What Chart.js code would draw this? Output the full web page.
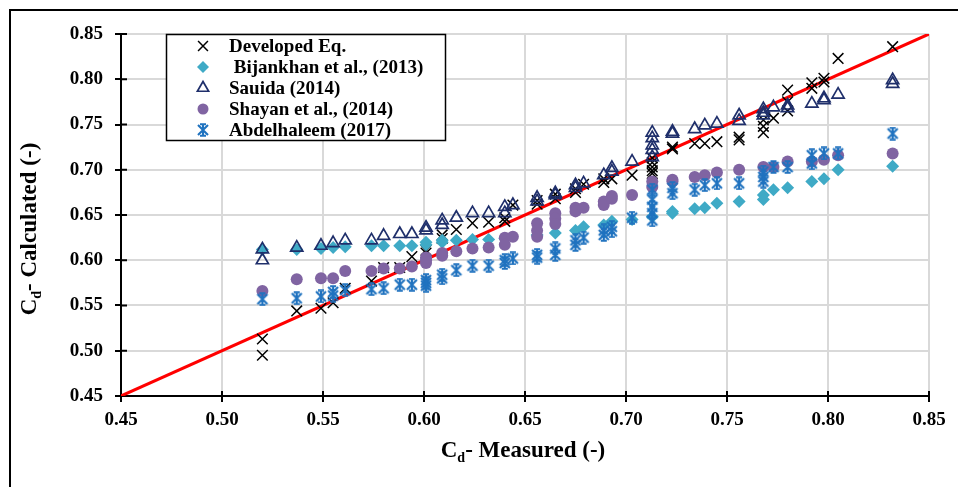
<!DOCTYPE html>
<html lang="en">
<head>
<meta charset="UTF-8">
<title>Cd Measured vs Calculated</title>
<script src="https://cdn.jsdelivr.net/npm/chart.js"></script>
<style>
body{margin:0;background:#fff;overflow:hidden;}
.frame{position:absolute;left:9px;top:9px;width:960px;height:500px;border:2px solid #000;box-sizing:border-box;}
.wrap{position:absolute;left:0;top:0;width:958px;height:487px;}
</style>
</head>
<body>
<div class="frame"></div>
<div class="wrap"><canvas id="cdChart" width="958" height="487"></canvas></div>

<script>
/* ---------- data ---------- */
const devX=[0.520,0.520,0.537,0.549,0.555,0.561,0.574,0.580,0.588,0.594,0.601,0.601,0.609,0.609,0.616,0.624,0.632,0.640,0.640,0.644,0.656,0.656,0.665,0.665,0.675,0.675,0.679,0.689,0.689,0.693,0.703,0.713,0.713,0.713,0.713,0.713,0.723,0.723,0.734,0.739,0.745,0.756,0.756,0.768,0.768,0.768,0.773,0.780,0.780,0.780,0.792,0.792,0.798,0.798,0.805,0.832];
const devY=[0.513,0.495,0.544,0.547,0.553,0.569,0.577,0.592,0.592,0.604,0.611,0.608,0.628,0.624,0.634,0.641,0.642,0.647,0.643,0.661,0.666,0.662,0.673,0.668,0.679,0.675,0.684,0.686,0.690,0.690,0.694,0.713,0.708,0.703,0.699,0.696,0.725,0.723,0.729,0.729,0.731,0.736,0.733,0.755,0.748,0.741,0.757,0.788,0.775,0.765,0.796,0.790,0.801,0.797,0.823,0.836];

const bijX=[0.520,0.537,0.549,0.555,0.561,0.574,0.580,0.588,0.594,0.601,0.601,0.609,0.609,0.616,0.624,0.632,0.640,0.656,0.665,0.675,0.679,0.689,0.693,0.703,0.713,0.723,0.723,0.734,0.739,0.745,0.756,0.768,0.768,0.773,0.780,0.792,0.798,0.805,0.832];
const bijY=[0.612,0.612,0.613,0.614,0.615,0.616,0.616,0.616,0.616,0.617,0.620,0.620,0.622,0.622,0.623,0.623,0.624,0.628,0.630,0.633,0.637,0.639,0.643,0.645,0.648,0.652,0.654,0.657,0.658,0.663,0.665,0.672,0.667,0.678,0.680,0.687,0.690,0.700,0.704];

const sauX=[0.520,0.520,0.537,0.549,0.555,0.561,0.574,0.580,0.588,0.594,0.601,0.601,0.609,0.609,0.616,0.624,0.632,0.640,0.640,0.644,0.656,0.656,0.665,0.665,0.675,0.675,0.679,0.689,0.693,0.693,0.703,0.713,0.713,0.713,0.713,0.713,0.723,0.723,0.734,0.739,0.745,0.756,0.756,0.768,0.768,0.768,0.773,0.780,0.780,0.792,0.798,0.798,0.805,0.832,0.832];
const sauY=[0.612,0.600,0.614,0.616,0.619,0.622,0.622,0.627,0.629,0.629,0.633,0.636,0.644,0.639,0.647,0.652,0.652,0.659,0.652,0.661,0.669,0.665,0.674,0.672,0.683,0.680,0.685,0.694,0.702,0.698,0.709,0.741,0.735,0.727,0.722,0.714,0.742,0.740,0.745,0.749,0.751,0.760,0.754,0.767,0.763,0.760,0.769,0.771,0.768,0.773,0.779,0.777,0.783,0.799,0.795];

const shaX=[0.520,0.537,0.549,0.555,0.561,0.574,0.580,0.588,0.594,0.601,0.601,0.601,0.609,0.609,0.616,0.624,0.632,0.640,0.640,0.644,0.656,0.656,0.656,0.665,0.665,0.665,0.675,0.675,0.679,0.689,0.689,0.693,0.693,0.703,0.713,0.713,0.723,0.723,0.734,0.739,0.745,0.756,0.768,0.773,0.780,0.792,0.798,0.805,0.832];
const shaY=[0.566,0.579,0.580,0.580,0.588,0.588,0.591,0.591,0.593,0.600,0.597,0.603,0.608,0.605,0.610,0.613,0.614,0.625,0.617,0.626,0.641,0.633,0.626,0.652,0.646,0.640,0.658,0.654,0.658,0.665,0.661,0.671,0.668,0.672,0.687,0.681,0.689,0.687,0.692,0.694,0.697,0.700,0.703,0.703,0.709,0.709,0.711,0.716,0.718];

const abdX=[0.520,0.537,0.549,0.555,0.555,0.561,0.574,0.580,0.588,0.594,0.601,0.601,0.601,0.609,0.609,0.616,0.624,0.632,0.640,0.640,0.644,0.656,0.656,0.665,0.665,0.675,0.675,0.679,0.689,0.689,0.693,0.693,0.703,0.713,0.713,0.713,0.713,0.713,0.723,0.723,0.734,0.739,0.745,0.756,0.768,0.768,0.768,0.773,0.780,0.792,0.792,0.798,0.805,0.832];
const abdY=[0.557,0.558,0.560,0.565,0.561,0.567,0.568,0.569,0.573,0.573,0.578,0.575,0.572,0.584,0.580,0.589,0.594,0.594,0.600,0.597,0.602,0.606,0.603,0.613,0.606,0.622,0.617,0.625,0.633,0.628,0.637,0.632,0.647,0.678,0.667,0.659,0.652,0.644,0.680,0.674,0.678,0.683,0.685,0.685,0.698,0.692,0.687,0.703,0.703,0.716,0.707,0.718,0.718,0.740];

const lineX=[0.45,0.85];
const lineY=[0.45,0.85];

const seriesNames=["Developed Eq."," Bijankhan et al., (2013)","Sauida (2014)","Shayan et al., (2014)","Abdelhaleem (2017)"];
const xTicks=[0.45,0.50,0.55,0.60,0.65,0.70,0.75,0.80,0.85];

/* ---------- styling ---------- */
const SERIF='"Liberation Serif","Times New Roman",serif';
const COLORS={
    dev :"#000000",
    bij :"#3faac6",
    sau :"#1f2f6b",
    sha :"#8064a2",
    abd :"#1f72bf",
    line:"#ff0000"
};

// Excel-like star marker (x + vertical bar + caps)
function makeStar(color){
    const c=document.createElement("canvas");
    c.width=14;c.height=14;
    const g=c.getContext("2d");
    g.strokeStyle=color;g.lineWidth=2.1;g.lineCap="butt";
    g.beginPath();
    g.moveTo(7,0.5);g.lineTo(7,13.5);
    g.moveTo(2,2);g.lineTo(12,12);
    g.moveTo(12,2);g.lineTo(2,12);
    g.moveTo(4,1.2);g.lineTo(10,1.2);
    g.moveTo(4,12.8);g.lineTo(10,12.8);
    g.stroke();
    return c;
}
const starImg=makeStar(COLORS.abd);

const pts=(xs,ys)=>xs.map((x,i)=>({x:x,y:ys[i]}));

const datasets=[
    {label:seriesNames[0],data:pts(devX,devY),pointStyle:"crossRot",pointRadius:7.5,
     borderColor:COLORS.dev,backgroundColor:COLORS.dev,pointBorderWidth:1.5,order:5},
    {label:seriesNames[1],data:pts(bijX,bijY),pointStyle:"rectRot",pointRadius:6.5,
     borderColor:COLORS.bij,backgroundColor:COLORS.bij,pointBorderWidth:0,order:4},
    {label:seriesNames[2],data:pts(sauX,sauY),pointStyle:"triangle",pointRadius:7,
     borderColor:COLORS.sau,backgroundColor:"rgba(0,0,0,0)",pointBorderWidth:1.7,order:3},
    {label:seriesNames[3],data:pts(shaX,shaY),pointStyle:"circle",pointRadius:6,
     borderColor:COLORS.sha,backgroundColor:COLORS.sha,pointBorderWidth:0,order:2},
    {label:seriesNames[4],data:pts(abdX,abdY),pointStyle:starImg,pointRadius:7,
     borderColor:COLORS.abd,backgroundColor:COLORS.abd,order:1},
    {label:"1:1",data:pts(lineX,lineY),showLine:true,pointRadius:0,
     borderColor:COLORS.line,borderWidth:3,order:6}
];

/* ---------- titles, legend box, inner tick marks ---------- */
function drawCdTitle(ctx,cx,cy,rest,size){
    ctx.textBaseline="middle";ctx.textAlign="left";ctx.fillStyle="#000";
    ctx.font=`bold ${size}px ${SERIF}`;
    const wC=ctx.measureText("C").width, wR=ctx.measureText(rest).width;
    ctx.font=`bold ${Math.round(size*0.62)}px ${SERIF}`;
    const wd=ctx.measureText("d").width;
    let x=cx-(wC+wd+wR)/2;
    ctx.font=`bold ${size}px ${SERIF}`;
    ctx.fillText("C",x,cy);
    ctx.font=`bold ${Math.round(size*0.62)}px ${SERIF}`;
    ctx.fillText("d",x+wC,cy+size*0.3);
    ctx.font=`bold ${size}px ${SERIF}`;
    ctx.fillText(rest,x+wC+wd,cy);
}

const extras={
    id:"extras",
    beforeDatasetsDraw(chart){
        const ctx=chart.ctx, a=chart.chartArea, xs=chart.scales.x, ys=chart.scales.y;
        ctx.save();
        ctx.strokeStyle="#000";ctx.lineWidth=2;
        ctx.beginPath();
        xs.ticks.forEach(t=>{const p=xs.getPixelForValue(t.value);ctx.moveTo(p,a.bottom);ctx.lineTo(p,a.bottom-5);});
        ys.ticks.forEach(t=>{const p=ys.getPixelForValue(t.value);ctx.moveTo(a.left,p);ctx.lineTo(a.left+6,p);});
        ctx.stroke();
        ctx.restore();
    },
    afterDraw(chart){
        const ctx=chart.ctx;
        ctx.save();
        // axis titles
        drawCdTitle(ctx,523,451,"- Measured (-)",23);
        ctx.translate(30,229);ctx.rotate(-Math.PI/2);
        drawCdTitle(ctx,0,0,"- Calculated (-)",23);
        ctx.restore();

        // legend box
        ctx.save();
        ctx.fillStyle="#fff";ctx.fillRect(166,34,280,107);
        ctx.strokeStyle="#000";ctx.lineWidth=1.5;ctx.strokeRect(166.5,34.5,279,106);
        const rows=[46,67,88,109,130];
        chart.data.datasets.slice(0,5).forEach((ds,i)=>{
            ctx.save();
            ctx.strokeStyle=ds.borderColor;ctx.fillStyle=ds.backgroundColor;
            ctx.lineWidth=ds.pointBorderWidth||1.5;
            Chart.helpers.drawPoint(ctx,{pointStyle:ds.pointStyle,radius:ds.pointRadius-0.5,rotation:0,
                borderWidth:ds.pointBorderWidth||0},203,rows[i]);
            ctx.restore();
            ctx.fillStyle="#000";ctx.font=`bold 19px ${SERIF}`;
            ctx.textAlign="left";ctx.textBaseline="middle";
            ctx.fillText(ds.label,229,rows[i]+1);
        });
        ctx.restore();
    }
};

/* ---------- chart ---------- */
new Chart(document.getElementById("cdChart"),{
    type:"scatter",
    data:{datasets:datasets},
    plugins:[extras],
    options:{
        animation:false,
        responsive:false,
        layout:{padding:{left:0,right:29,top:34,bottom:0}},
        plugins:{legend:{display:false},tooltip:{enabled:false}},
        scales:{
            x:{
                type:"linear",min:0.45,max:0.85,
                afterBuildTicks:s=>{s.ticks=xTicks.map(v=>({value:v}));},
                afterFit:s=>{s.height=91;},
                grid:{color:"#d9d9d9",lineWidth:2,tickColor:"#000",tickLength:6},
                border:{color:"#000",width:2},
                ticks:{padding:7,color:"#000",font:{family:SERIF,size:19,weight:"bold"},
                       callback:v=>v.toFixed(2),maxRotation:0}
            },
            y:{
                type:"linear",min:0.45,max:0.85,
                afterBuildTicks:s=>{s.ticks=xTicks.map(v=>({value:v}));},
                afterFit:s=>{s.width=121;},
                grid:{color:"#d9d9d9",lineWidth:2,tickColor:"#000",tickLength:6},
                border:{color:"#000",width:2},
                ticks:{padding:12,color:"#000",font:{family:SERIF,size:19,weight:"bold"},
                       callback:v=>v.toFixed(2)}
            }
        }
    }
});
</script>
</body>
</html>
